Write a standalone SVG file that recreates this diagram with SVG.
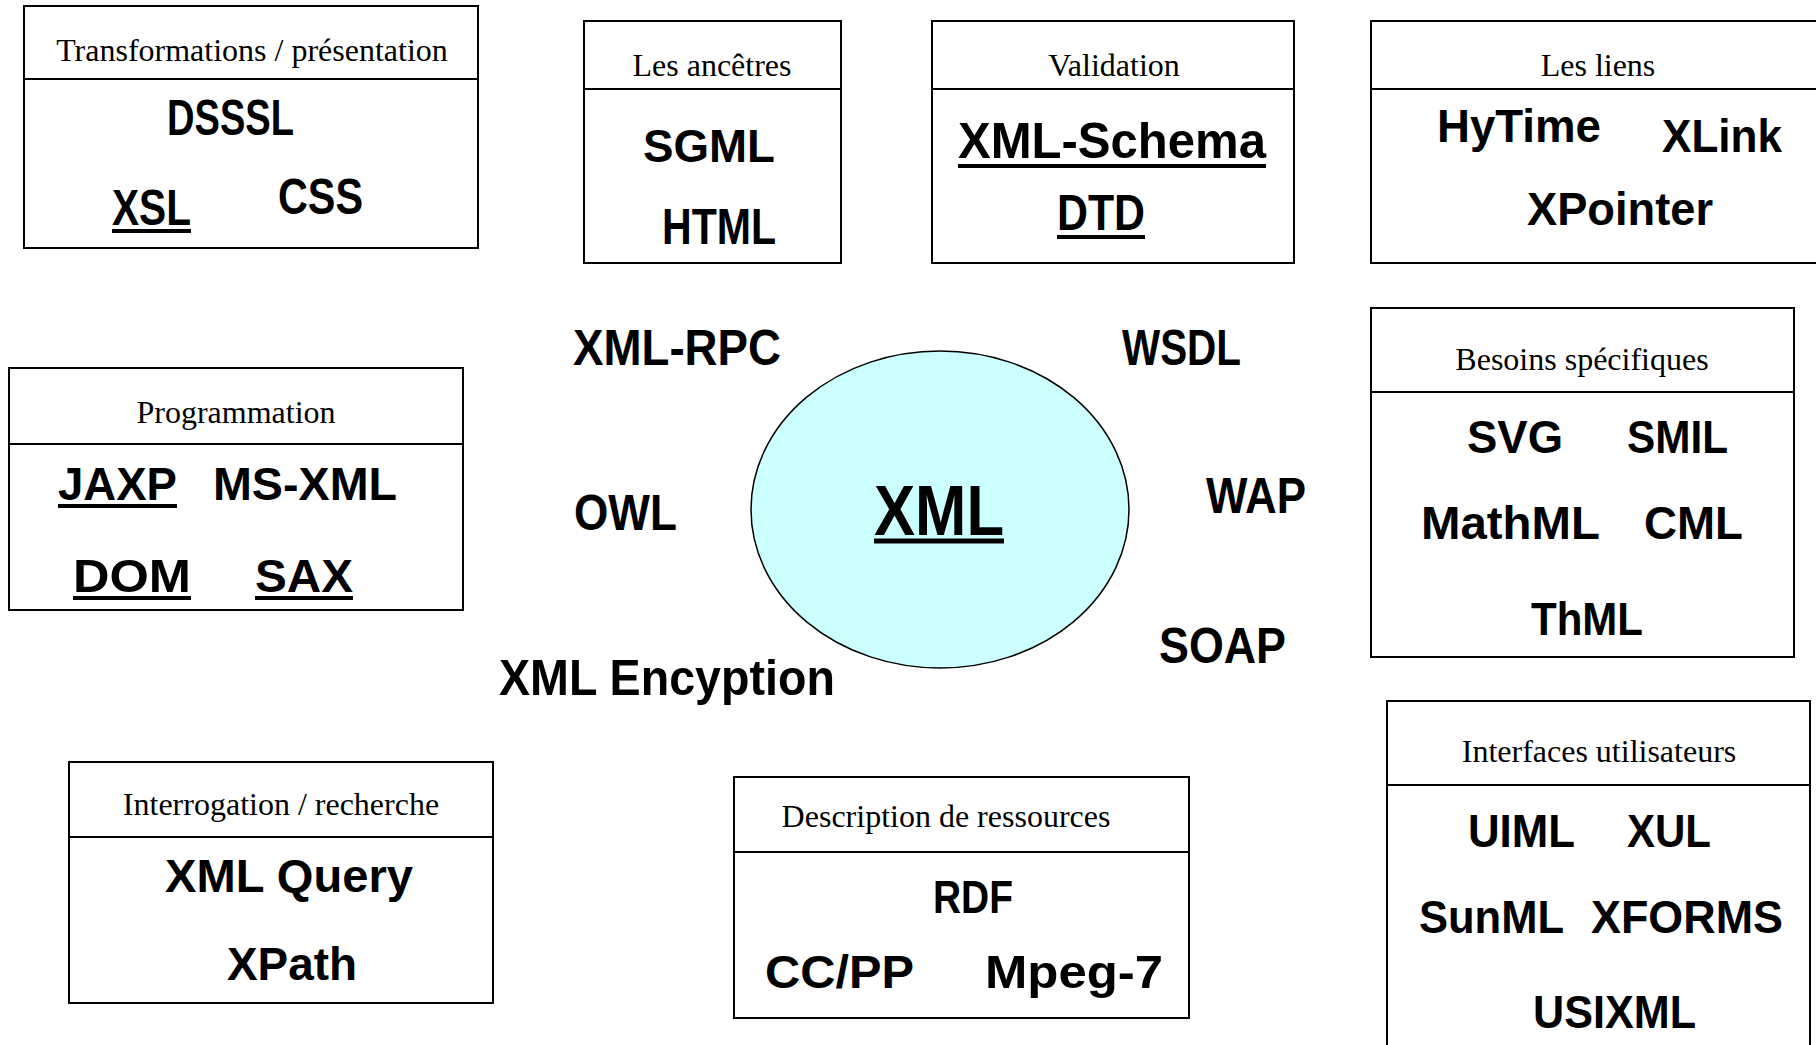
<svg xmlns="http://www.w3.org/2000/svg" width="1816" height="1045" viewBox="0 0 1816 1045">
<style>
.box{fill:#fff;stroke:#000;stroke-width:2}
.div{stroke:#000;stroke-width:2}
.t{font-family:"Liberation Serif","Times New Roman",serif;font-size:32px;fill:#000;text-anchor:middle}
.b{font-family:"Liberation Sans",Arial,sans-serif;font-weight:bold;font-size:46px;fill:#000}
.c{font-size:50px}
.u{stroke:#000;stroke-width:4}
</style>
<rect width="1816" height="1045" fill="#fff"/>
<g id="connectors"/>

<g id="transformations">
<rect class="box" x="24" y="6" width="454" height="242"/>
<line class="div" x1="24" y1="79" x2="478" y2="79"/>
<text class="t" x="252" y="61">Transformations / présentation</text>
<text class="b c" x="167" y="135" textLength="127" lengthAdjust="spacingAndGlyphs">DSSSL</text>
<text class="b c" x="112" y="225" textLength="79" lengthAdjust="spacingAndGlyphs">XSL</text>
<line class="u" x1="112" y1="231" x2="191" y2="231"/>
<text class="b c" x="278" y="214" textLength="85" lengthAdjust="spacingAndGlyphs">CSS</text>
</g>

<g id="ancetres">
<rect class="box" x="584" y="21" width="257" height="242"/>
<line class="div" x1="584" y1="89" x2="841" y2="89"/>
<text class="t" x="712" y="76">Les ancêtres</text>
<text class="b" x="643" y="162" textLength="132" lengthAdjust="spacingAndGlyphs">SGML</text>
<text class="b c" x="662" y="244" textLength="114" lengthAdjust="spacingAndGlyphs">HTML</text>
</g>

<g id="validation">
<rect class="box" x="932" y="21" width="362" height="242"/>
<line class="div" x1="932" y1="89" x2="1294" y2="89"/>
<text class="t" x="1114" y="76">Validation</text>
<text class="b c" x="958" y="158" textLength="308" lengthAdjust="spacingAndGlyphs">XML-Schema</text>
<line class="u" x1="958" y1="166" x2="1266" y2="166"/>
<text class="b c" x="1057" y="230" textLength="88" lengthAdjust="spacingAndGlyphs">DTD</text>
<line class="u" x1="1057" y1="237" x2="1145" y2="237"/>
</g>

<g id="liens">
<rect class="box" x="1371" y="21" width="460" height="242"/>
<line class="div" x1="1371" y1="89" x2="1831" y2="89"/>
<text class="t" x="1598" y="76">Les liens</text>
<text class="b" x="1437" y="142" textLength="164" lengthAdjust="spacingAndGlyphs">HyTime</text>
<text class="b" x="1662" y="152" textLength="120" lengthAdjust="spacingAndGlyphs">XLink</text>
<text class="b" x="1527" y="225" textLength="186" lengthAdjust="spacingAndGlyphs">XPointer</text>
</g>

<g id="programmation">
<rect class="box" x="9" y="368" width="454" height="242"/>
<line class="div" x1="9" y1="444" x2="463" y2="444"/>
<text class="t" x="236" y="423">Programmation</text>
<text class="b" x="58" y="500" textLength="119" lengthAdjust="spacingAndGlyphs">JAXP</text>
<line class="u" x1="58" y1="506" x2="177" y2="506"/>
<text class="b" x="213" y="500" textLength="184" lengthAdjust="spacingAndGlyphs">MS-XML</text>
<text class="b" x="73" y="592" textLength="118" lengthAdjust="spacingAndGlyphs">DOM</text>
<line class="u" x1="73" y1="598" x2="191" y2="598"/>
<text class="b" x="255" y="592" textLength="98" lengthAdjust="spacingAndGlyphs">SAX</text>
<line class="u" x1="255" y1="598" x2="353" y2="598"/>
</g>

<g id="besoins">
<rect class="box" x="1371" y="308" width="423" height="349"/>
<line class="div" x1="1371" y1="392" x2="1794" y2="392"/>
<text class="t" x="1582" y="370">Besoins spécifiques</text>
<text class="b" x="1467" y="453" textLength="96" lengthAdjust="spacingAndGlyphs">SVG</text>
<text class="b" x="1627" y="453" textLength="101" lengthAdjust="spacingAndGlyphs">SMIL</text>
<text class="b" x="1421" y="539" textLength="179" lengthAdjust="spacingAndGlyphs">MathML</text>
<text class="b" x="1644" y="539" textLength="99" lengthAdjust="spacingAndGlyphs">CML</text>
<text class="b" x="1531" y="635" textLength="112" lengthAdjust="spacingAndGlyphs">ThML</text>
</g>

<g id="interrogation">
<rect class="box" x="69" y="762" width="424" height="241"/>
<line class="div" x1="69" y1="837" x2="493" y2="837"/>
<text class="t" x="281" y="815">Interrogation / recherche</text>
<text class="b" x="165" y="892" textLength="248" lengthAdjust="spacingAndGlyphs">XML Query</text>
<text class="b" x="227" y="980" textLength="130" lengthAdjust="spacingAndGlyphs">XPath</text>
</g>

<g id="description">
<rect class="box" x="734" y="777" width="455" height="241"/>
<line class="div" x1="734" y1="852" x2="1189" y2="852"/>
<text class="t" x="946" y="827">Description de ressources</text>
<text class="b" x="933" y="913" textLength="80" lengthAdjust="spacingAndGlyphs">RDF</text>
<text class="b" x="765" y="988" textLength="149" lengthAdjust="spacingAndGlyphs">CC/PP</text>
<text class="b" x="985" y="988" textLength="178" lengthAdjust="spacingAndGlyphs">Mpeg-7</text>
</g>

<g id="interfaces">
<rect class="box" x="1387" y="701" width="423" height="360"/>
<line class="div" x1="1387" y1="785" x2="1810" y2="785"/>
<text class="t" x="1599" y="762">Interfaces utilisateurs</text>
<text class="b" x="1468" y="847" textLength="107" lengthAdjust="spacingAndGlyphs">UIML</text>
<text class="b" x="1627" y="847" textLength="84" lengthAdjust="spacingAndGlyphs">XUL</text>
<text class="b" x="1419" y="933" textLength="145" lengthAdjust="spacingAndGlyphs">SunML</text>
<text class="b" x="1591" y="933" textLength="192" lengthAdjust="spacingAndGlyphs">XFORMS</text>
<text class="b" x="1533" y="1028" textLength="163" lengthAdjust="spacingAndGlyphs">USIXML</text>
</g>

<g id="xml">
<ellipse cx="940" cy="509.5" rx="189" ry="158.5" fill="#CCFFFF" stroke="#000" stroke-width="1.5"/>
<text class="b" x="874" y="535" style="font-size:70px" textLength="130" lengthAdjust="spacingAndGlyphs">XML</text>
<line x1="874" y1="541" x2="1004" y2="541" stroke="#000" stroke-width="5"/>
</g>

<g id="xml-rpc"><text class="b c" x="573" y="365" textLength="208" lengthAdjust="spacingAndGlyphs">XML-RPC</text></g>
<g id="wsdl"><text class="b c" x="1122" y="365" textLength="119" lengthAdjust="spacingAndGlyphs">WSDL</text></g>
<g id="owl"><text class="b c" x="574" y="530" textLength="103" lengthAdjust="spacingAndGlyphs">OWL</text></g>
<g id="wap"><text class="b c" x="1206" y="513" textLength="100" lengthAdjust="spacingAndGlyphs">WAP</text></g>
<g id="soap"><text class="b c" x="1159" y="663" textLength="127" lengthAdjust="spacingAndGlyphs">SOAP</text></g>
<g id="xml-encyption"><text class="b c" x="499" y="695" textLength="336" lengthAdjust="spacingAndGlyphs">XML Encyption</text></g>
</svg>
